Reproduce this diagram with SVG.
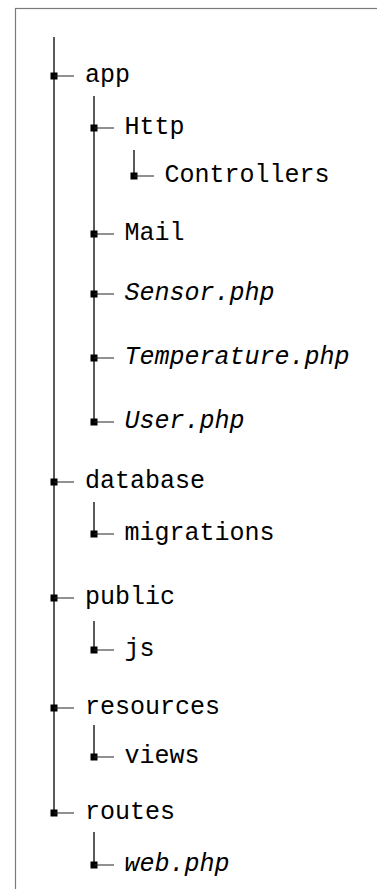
<svg xmlns="http://www.w3.org/2000/svg" width="377" height="889" viewBox="0 0 377 889">
<style>
.frame{fill:none;stroke:#7a7a7a;stroke-width:1.2}
.trunk{stroke:#000;stroke-width:1.3;fill:none}
.tick{stroke:#222;stroke-width:1;fill:none}
.dot{fill:#000}
text{font-family:"Liberation Mono","DejaVu Sans Mono",monospace;font-size:25px;fill:#000}
.it{font-style:italic}
</style>
<rect class="frame" x="15.5" y="8.5" width="420" height="920"/>
<g id="connectors">
<line class="trunk" x1="54" y1="37" x2="54" y2="813"/>
<line class="trunk" x1="94" y1="96" x2="94" y2="422"/>
<line class="trunk" x1="134" y1="150" x2="134" y2="176"/>
<line class="trunk" x1="94" y1="502" x2="94" y2="534"/>
<line class="trunk" x1="94" y1="621" x2="94" y2="650"/>
<line class="trunk" x1="94" y1="725" x2="94" y2="757"/>
<line class="trunk" x1="94" y1="832" x2="94" y2="865"/>
</g>
<g id="app"><rect class="dot" x="50.5" y="72.5" width="7" height="7"/><line class="tick" x1="54" y1="76" x2="74" y2="76"/><text x="85" y="81.5">app</text></g>
<g id="http"><rect class="dot" x="90.5" y="124.5" width="7" height="7"/><line class="tick" x1="94" y1="128" x2="114" y2="128"/><text x="124.5" y="133.5">Http</text></g>
<g id="controllers"><rect class="dot" x="130.5" y="172.5" width="7" height="7"/><line class="tick" x1="134" y1="176" x2="154" y2="176"/><text x="164.5" y="181.5">Controllers</text></g>
<g id="mail"><rect class="dot" x="90.5" y="230.5" width="7" height="7"/><line class="tick" x1="94" y1="234" x2="114" y2="234"/><text x="124.5" y="239.5">Mail</text></g>
<g id="sensor"><rect class="dot" x="90.5" y="290.5" width="7" height="7"/><line class="tick" x1="94" y1="294" x2="114" y2="294"/><text class="it" x="124.5" y="299.5">Sensor.php</text></g>
<g id="temperature"><rect class="dot" x="90.5" y="354.5" width="7" height="7"/><line class="tick" x1="94" y1="358" x2="114" y2="358"/><text class="it" x="124.5" y="363.5">Temperature.php</text></g>
<g id="user"><rect class="dot" x="90.5" y="418.5" width="7" height="7"/><line class="tick" x1="94" y1="422" x2="114" y2="422"/><text class="it" x="124.5" y="427.5">User.php</text></g>
<g id="database"><rect class="dot" x="50.5" y="478.5" width="7" height="7"/><line class="tick" x1="54" y1="482" x2="74" y2="482"/><text x="85" y="487.5">database</text></g>
<g id="migrations"><rect class="dot" x="90.5" y="530.5" width="7" height="7"/><line class="tick" x1="94" y1="534" x2="114" y2="534"/><text x="124.5" y="539.5">migrations</text></g>
<g id="public"><rect class="dot" x="50.5" y="594.5" width="7" height="7"/><line class="tick" x1="54" y1="598" x2="74" y2="598"/><text x="85" y="603.5">public</text></g>
<g id="js"><rect class="dot" x="90.5" y="646.5" width="7" height="7"/><line class="tick" x1="94" y1="650" x2="114" y2="650"/><text x="124.5" y="655.5">js</text></g>
<g id="resources"><rect class="dot" x="50.5" y="704.5" width="7" height="7"/><line class="tick" x1="54" y1="708" x2="74" y2="708"/><text x="85" y="713.5">resources</text></g>
<g id="views"><rect class="dot" x="90.5" y="753.5" width="7" height="7"/><line class="tick" x1="94" y1="757" x2="114" y2="757"/><text x="124.5" y="762.5">views</text></g>
<g id="routes"><rect class="dot" x="50.5" y="809.5" width="7" height="7"/><line class="tick" x1="54" y1="813" x2="74" y2="813"/><text x="85" y="818.5">routes</text></g>
<g id="web"><rect class="dot" x="90.5" y="861.5" width="7" height="7"/><line class="tick" x1="94" y1="865" x2="114" y2="865"/><text class="it" x="124.5" y="870.5">web.php</text></g>
</svg>
